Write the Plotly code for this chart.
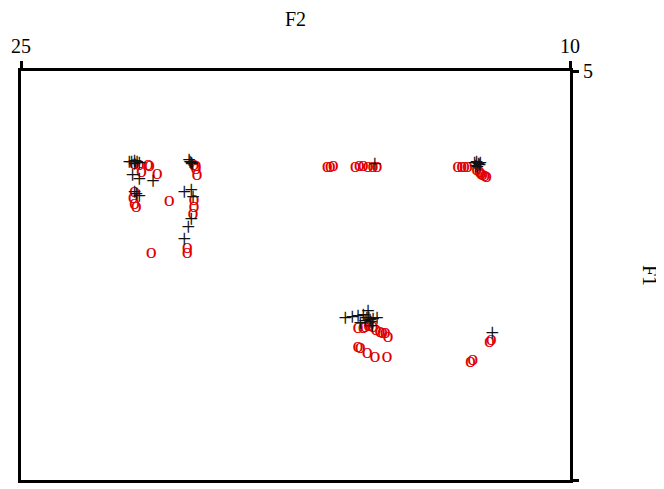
import plotly.graph_objects as go

# Red "o" tokens: F2 (x) and F1 (y)
o_f2 = [21.90, 21.77, 21.52, 21.49, 21.71, 21.28, 21.90, 21.93, 21.90, 21.85, 20.95, 21.44,
        20.27, 20.22, 20.22, 20.19, 20.27, 20.27, 20.30, 20.46, 20.46,
        16.63, 16.55, 16.47, 15.87, 15.76, 15.65, 15.52, 15.38, 15.27,
        13.07, 12.96, 12.88, 12.80, 12.55, 12.47, 12.43, 12.39, 12.33, 12.28,
        15.79, 15.65, 15.60, 15.50, 15.38, 15.30, 15.19, 15.12, 15.05, 14.97,
        15.79, 15.73, 15.54, 15.33, 15.00,
        12.15, 12.20, 12.66, 12.72]
o_f1 = [7.50, 7.52, 7.52, 7.55, 7.71, 7.76, 8.24, 8.40, 8.56, 8.64, 8.48, 9.89,
        7.52, 7.55, 7.63, 7.79, 8.45, 8.64, 8.83, 9.76, 9.89,
        7.58, 7.58, 7.55, 7.58, 7.55, 7.55, 7.58, 7.58, 7.58,
        7.58, 7.58, 7.58, 7.58, 7.66, 7.71, 7.75, 7.79, 7.82, 7.84,
        11.91, 11.91, 11.88, 11.85, 11.88, 11.95, 12.01, 12.03, 12.04, 12.15,
        12.41, 12.44, 12.57, 12.68, 12.68,
        12.23, 12.28, 12.76, 12.81]

# Black "+" tokens: F2 (x) and F1 (y)
p_f2 = [22.04, 21.98, 21.90, 21.83, 21.77, 21.90, 21.95, 21.77, 21.39, 21.90, 21.77, 21.85,
        20.41, 20.38, 20.35, 20.33, 20.54, 20.35, 20.30, 20.35, 20.43, 20.54,
        15.33,
        12.61, 12.55, 12.50, 12.47, 12.53, 12.58, 12.45,
        16.14, 15.95, 15.79, 15.65, 15.52, 15.46, 15.27, 15.60, 15.73, 15.41, 15.50, 15.44, 15.38, 15.55,
        12.12]
p_f1 = [7.50, 7.50, 7.48, 7.50, 7.52, 7.55, 7.84, 7.95, 8.00, 8.29, 8.40, 8.35,
        7.44, 7.50, 7.52, 7.55, 8.29, 8.24, 8.43, 9.04, 9.25, 9.57,
        7.55,
        7.52, 7.50, 7.55, 7.58, 7.63, 7.60, 7.52,
        11.70, 11.67, 11.64, 11.62, 11.51, 11.75, 11.70, 11.78, 11.83, 11.91, 11.70, 11.80, 11.72, 11.68,
        12.09]

x_ticks = [25, 10]
y_ticks = [5, 16]

FONT = "Liberation Serif, Times New Roman, DejaVu Serif, serif"

fig = go.Figure()
fig.add_trace(go.Scatter(
    x=o_f2, y=o_f1, mode="text", text=["o"] * len(o_f2),
    textfont=dict(family=FONT, size=22, color="#e00000"),
    textposition="middle center", showlegend=False, hoverinfo="skip"))
fig.add_trace(go.Scatter(
    x=p_f2, y=p_f1, mode="text", text=["+"] * len(p_f2),
    textfont=dict(family=FONT, size=25, color="#111111"),
    textposition="middle center", showlegend=False, hoverinfo="skip"))

fig.update_layout(
    width=664, height=476,
    margin=dict(l=13, r=102, t=61, b=1),
    paper_bgcolor="white", plot_bgcolor="white",
    font=dict(family=FONT, size=20, color="black"),
    xaxis=dict(
        side="top", range=[25, 10], tickvals=x_ticks, ticktext=[str(v) for v in x_ticks],
        ticks="outside", ticklen=7, tickwidth=3, tickcolor="black",
        showline=True, linewidth=3, linecolor="black", mirror=True,
        showgrid=False, zeroline=False,
        title=dict(text="F2", font=dict(family=FONT, size=20), standoff=12),
        tickfont=dict(family=FONT, size=20),
    ),
    yaxis=dict(
        side="right", range=[16, 5], tickvals=y_ticks, ticktext=[str(v) for v in y_ticks],
        ticks="outside", ticklen=6, tickwidth=3, tickcolor="black",
        showline=True, linewidth=3, linecolor="black", mirror=True,
        showgrid=False, zeroline=False,
        tickfont=dict(family=FONT, size=20),
    ),
    annotations=[dict(
        text="F1", xref="paper", yref="paper", x=(652 - 19) / 552, y=0.5,
        showarrow=False, textangle=90, font=dict(family=FONT, size=20),
        xanchor="center", yanchor="middle")],
)

fig.write_html("out.html")
